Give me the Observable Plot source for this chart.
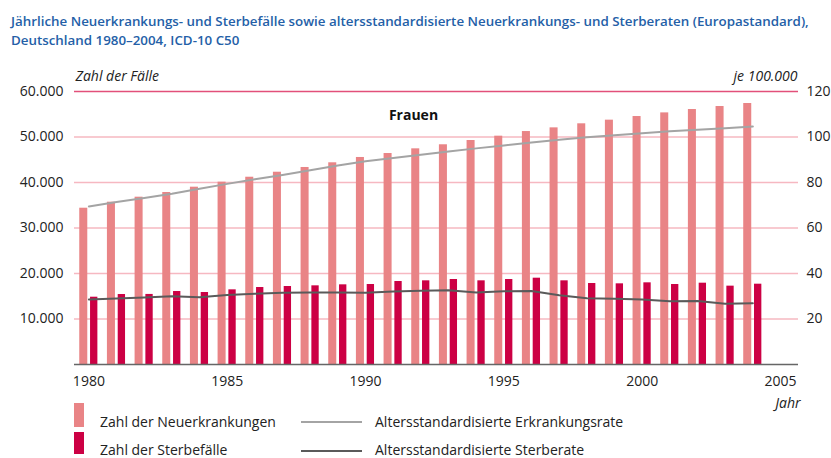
<!DOCTYPE html>
<html>
<head>
<meta charset="utf-8">
<script src="https://cdn.jsdelivr.net/npm/d3@7"></script>
<script src="https://cdn.jsdelivr.net/npm/@observablehq/plot@0.6"></script>
<style>
  html, body { margin: 0; padding: 0; background: #fff; }
  body { width: 831px; height: 458px; position: relative; overflow: hidden; font-family: "Open Sans", "Noto Sans", sans-serif; }
  #title { position: absolute; left: 11px; top: 12px; color: #2460a7; font-size: 13.35px; line-height: 19px; font-weight: 600; white-space: nowrap; }
  #chart { position: absolute; left: 0; top: 55px; }
  .lg { position: absolute; }
  .lgtext { position: absolute; font-size: 14px; line-height: 14px; color: #222; white-space: nowrap; }
</style>
</head>
<body>
<div id="title"></div>
<div id="chart"></div>
<div id="legend"></div>
<script>
// ---- data ----
const titleLines = [
  "Jährliche Neuerkrankungs- und Sterbefälle sowie altersstandardisierte Neuerkrankungs- und Sterberaten (Europastandard),",
  "Deutschland 1980–2004, ICD-10 C50"
];
const years = [1980, 1981, 1982, 1983, 1984, 1985, 1986, 1987, 1988, 1989, 1990, 1991, 1992,
               1993, 1994, 1995, 1996, 1997, 1998, 1999, 2000, 2001, 2002, 2003, 2004];
const neuerkrankungen = [34350, 35670, 36770, 37800, 38970, 40070, 41160, 42260, 43300, 44330, 45500, 46370, 47400,
                         48290, 49230, 50180, 51200, 52010, 52900, 53700, 54500, 55300, 56040, 56700, 57360];
const sterbefaelle = [14790, 15380, 15400, 16040, 15820, 16410, 16920, 17140, 17290, 17510, 17580, 18240, 18390,
                      18680, 18390, 18680, 18970, 18390, 17800, 17730, 17950, 17580, 17870, 17220, 17650];
const erkrankungsrate = [69.5, 71.4, 73.2, 75.1, 77.3, 79.4, 81.4, 83.3, 85.4, 87.5, 89.3, 90.8, 92.2,
                         93.6, 95.0, 96.3, 97.6, 98.8, 99.9, 100.8, 101.7, 102.5, 103.2, 103.9, 104.6];
const sterberate = [28.6, 29.0, 29.4, 30.0, 29.6, 30.6, 31.1, 31.5, 31.6, 31.6, 31.5, 32.1, 32.4,
                    32.6, 31.6, 32.2, 32.3, 30.4, 29.1, 28.9, 28.6, 27.8, 27.9, 26.7, 26.9];
const leftTicks = [10000, 20000, 30000, 40000, 50000, 60000];
const leftTickLabels = ["10.000", "20.000", "30.000", "40.000", "50.000", "60.000"];
const rightTicks = [20, 40, 60, 80, 100, 120];
const xTicks = [1980, 1985, 1990, 1995, 2000, 2005];
const leftAxisTitle = "Zahl der Fälle";
const rightAxisTitle = "je 100.000";
const xAxisTitle = "Jahr";
const panelLabel = "Frauen";
const legendLabels = ["Zahl der Neuerkrankungen", "Zahl der Sterbefälle",
                      "Altersstandardisierte Erkrankungsrate", "Altersstandardisierte Sterberate"];

// colours
const cLight = "#e98486";
const cDark = "#cc0044";
const cRateLight = "#a4a4a4";
const cRateDark = "#5a5a5a";
const cGrid = "#f6b8c1";
const cGridTop = "#e2507a";

// rate axis maps 0..120 onto 0..60000
const rateFactor = 60000 / 120;

const data = years.map((y, i) => ({
  year: y, neu: neuerkrankungen[i], tod: sterbefaelle[i],
  erk: erkrankungsrate[i], ster: sterberate[i]
}));

document.getElementById("title").innerHTML = titleLines.join("<br>");

const plot = Plot.plot({
  width: 831,
  height: 368,
  marginLeft: 74,
  marginRight: 33,
  marginTop: 36,
  marginBottom: 59,
  style: { fontFamily: "'Open Sans', 'Noto Sans', sans-serif", fontSize: "14px", color: "#222", background: "transparent", overflow: "visible" },
  x: { domain: [1979.48, 2005.65] },
  y: { domain: [0, 60000] },
  marks: [
    Plot.ruleY(leftTicks.filter(t => t < 60000), { stroke: cGrid, strokeWidth: 1.5 }),
    Plot.ruleY([60000], { stroke: cGridTop, strokeWidth: 1.5 }),
    Plot.rectY(data, { x1: d => d.year - 0.33, x2: d => d.year - 0.04, y: "neu", fill: cLight }),
    Plot.rectY(data, { x1: d => d.year + 0.06, x2: d => d.year + 0.325, y: "tod", fill: cDark }),
    Plot.ruleY([0], { stroke: "#666", strokeWidth: 1.5 }),
    Plot.line(data, { x: "year", y: d => d.erk * rateFactor, stroke: cRateLight, strokeWidth: 2 }),
    Plot.line(data, { x: "year", y: d => d.ster * rateFactor, stroke: cRateDark, strokeWidth: 2 }),
    Plot.axisY({ anchor: "left", ticks: leftTicks, tickFormat: d => leftTickLabels[leftTicks.indexOf(d)],
                 tickSize: 0, tickPadding: 11, label: null }),
    Plot.axisY({ anchor: "right", ticks: rightTicks.map(t => t * rateFactor), tickFormat: d => String(d / rateFactor),
                 tickSize: 0, tickPadding: 8, label: null }),
    Plot.axisX({ ticks: xTicks, tickFormat: d => String(d), tickSize: 0, tickPadding: 12, label: null }),
    Plot.text([leftAxisTitle], { frameAnchor: "top-left", textAnchor: "start", dx: 1, dy: -20, fontStyle: "italic", fontSize: 14 }),
    Plot.text([rightAxisTitle], { frameAnchor: "top-right", textAnchor: "end", dx: -1, dy: -20, fontStyle: "italic", fontSize: 14 }),
    Plot.text([xAxisTitle], { frameAnchor: "bottom-right", textAnchor: "end", dx: 2, dy: 43, fontStyle: "italic", fontSize: 14 }),
    Plot.text([panelLabel], { frameAnchor: "top", dx: -23, dy: 19, fontWeight: "bold", fontSize: 14, fill: "#111" })
  ]
});
document.getElementById("chart").appendChild(plot);

// legend
const lg = document.getElementById("legend");
function add(html) { lg.insertAdjacentHTML("beforeend", html); }
add(`<div class="lg" style="left:74px;top:403px;width:10px;height:24px;background:${cLight}"></div>`);
add(`<div class="lg" style="left:74px;top:432px;width:10px;height:22px;background:${cDark}"></div>`);
add(`<div class="lgtext" style="left:100px;top:415px">${legendLabels[0]}</div>`);
add(`<div class="lgtext" style="left:100px;top:443px">${legendLabels[1]}</div>`);
add(`<div class="lg" style="left:301px;top:421px;width:61px;height:2px;background:${cRateLight}"></div>`);
add(`<div class="lg" style="left:301px;top:450px;width:61px;height:2px;background:${cRateDark}"></div>`);
add(`<div class="lgtext" style="left:375px;top:415px">${legendLabels[2]}</div>`);
add(`<div class="lgtext" style="left:375px;top:443px">${legendLabels[3]}</div>`);
</script>
</body>
</html>
